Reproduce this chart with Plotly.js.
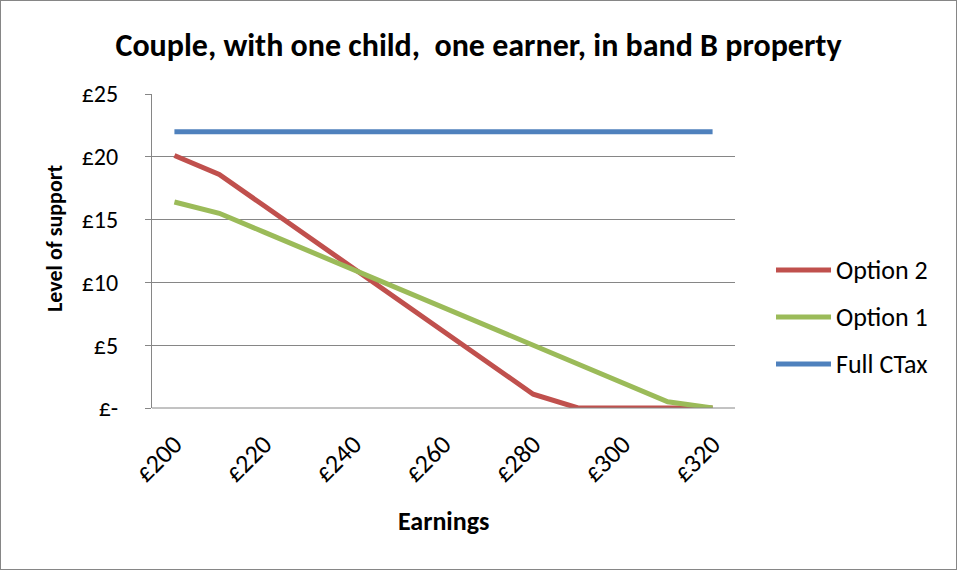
<!DOCTYPE html>
<html>
<head>
<meta charset="utf-8">
<script src="https://cdn.plot.ly/plotly-3.0.1.min.js"></script>
<style>
html,body{margin:0;padding:0;background:#fff;}
#chart{width:955px;height:568px;border:1px solid #868686;}
</style>
</head>
<body>
<div id="chart"></div>
<script>
var earnings = [200, 210, 220, 230, 240, 250, 260, 270, 280, 290, 300, 310, 320];
var option2 = [20.1, 18.6, 16.1, 13.6, 11.1, 8.6, 6.1, 3.6, 1.1, 0, 0, 0, 0];
var option1 = [16.4, 15.5, 14.0, 12.5, 11.0, 9.5, 8.0, 6.5, 5.0, 3.5, 2.0, 0.5, 0];
var fullCTax = [22, 22, 22, 22, 22, 22, 22, 22, 22, 22, 22, 22, 22];
var seriesNames = ['Option 2', 'Option 1', 'Full CTax'];
var seriesColors = ['#C0504D', '#9BBB59', '#4F81BD'];
var xTickVals = [200, 220, 240, 260, 280, 300, 320];
var xTickText = ['£200', '£220', '£240', '£260', '£280', '£300', '£320'];
var yTickVals = [0, 5, 10, 15, 20, 25];
var yTickText = ['£-', '£5', '£10', '£15', '£20', '£25'];

var FONT = "Carlito, Calibri, 'Open Sans', sans-serif";
var seriesData = [option2, option1, fullCTax];

var traces = seriesData.map(function (ys, i) {
  return {x: earnings, y: ys, name: seriesNames[i], mode: 'lines',
          showlegend: false, line: {color: seriesColors[i], width: 5}};
});

// Excel-style legend (long line samples), placed in paper coordinates
var legX0 = (775 - 151) / 583, legX1 = (830 - 151) / 583, legTX = (833 - 151) / 583;
var legYs = [(407 - 269) / 314, (407 - 316) / 314, (407 - 363) / 314];
var shapes = [{type: 'line', xref: 'paper', yref: 'paper', x0: 0, x1: 1, y0: 0, y1: 0,
               line: {color: '#868686', width: 1}}];
var annotations = [];
seriesNames.forEach(function (nm, i) {
  shapes.push({type: 'line', xref: 'paper', yref: 'paper', x0: legX0, x1: legX1,
               y0: legYs[i], y1: legYs[i], line: {color: seriesColors[i], width: 5}});
  annotations.push({xref: 'paper', yref: 'paper', x: legTX, y: legYs[i],
                    xanchor: 'left', yanchor: 'middle', showarrow: false,
                    text: nm, font: {size: 26, family: FONT, color: '#000'}});
});
annotations.push({xref: 'paper', yref: 'paper', x: (53 - 151) / 583, y: (407 - 237) / 314,
                  xanchor: 'center', yanchor: 'middle', showarrow: false, textangle: -90,
                  text: '<b>Level of support</b>', font: {size: 22, family: FONT, color: '#000'}});
annotations.push({xref: 'paper', yref: 'paper', x: 0.5, y: (407 - 520) / 314,
                  xanchor: 'center', yanchor: 'middle', showarrow: false,
                  text: '<b>Earnings</b>', font: {size: 26, family: FONT, color: '#000'}});

var layout = {
  width: 955, height: 568,
  margin: {l: 151, r: 221, t: 93, b: 161},
  paper_bgcolor: '#fff', plot_bgcolor: '#fff',
  font: {family: FONT, color: '#000', size: 24},
  title: {text: '<b>Couple, with one child,\u00a0 one earner, in band B property</b>',
          font: {size: 32, family: FONT}, x: 0.5, xanchor: 'center',
          y: 1 - 44/568, yref: 'container', yanchor: 'middle'},
  xaxis: {range: [195, 325], tickvals: xTickVals, ticktext: xTickText,
          tickangle: -45, showgrid: false, zeroline: false, showline: false,
          ticks: '', tickfont: {size: 26}, ticklabelstandoff: 15, automargin: false},
  yaxis: {range: [0, 25], tickvals: yTickVals, ticktext: yTickText,
          showgrid: true, gridcolor: '#868686', gridwidth: 1,
          zeroline: false, showline: true, linecolor: '#868686', linewidth: 1,
          ticks: 'outside', ticklen: 6, tickcolor: '#868686',
          ticklabelstandoff: 22, tickfont: {size: 24}, automargin: false},
  shapes: shapes,
  annotations: annotations,
  showlegend: false
};

Plotly.newPlot('chart', traces, layout, {displayModeBar: false, staticPlot: true});
</script>
</body>
</html>
